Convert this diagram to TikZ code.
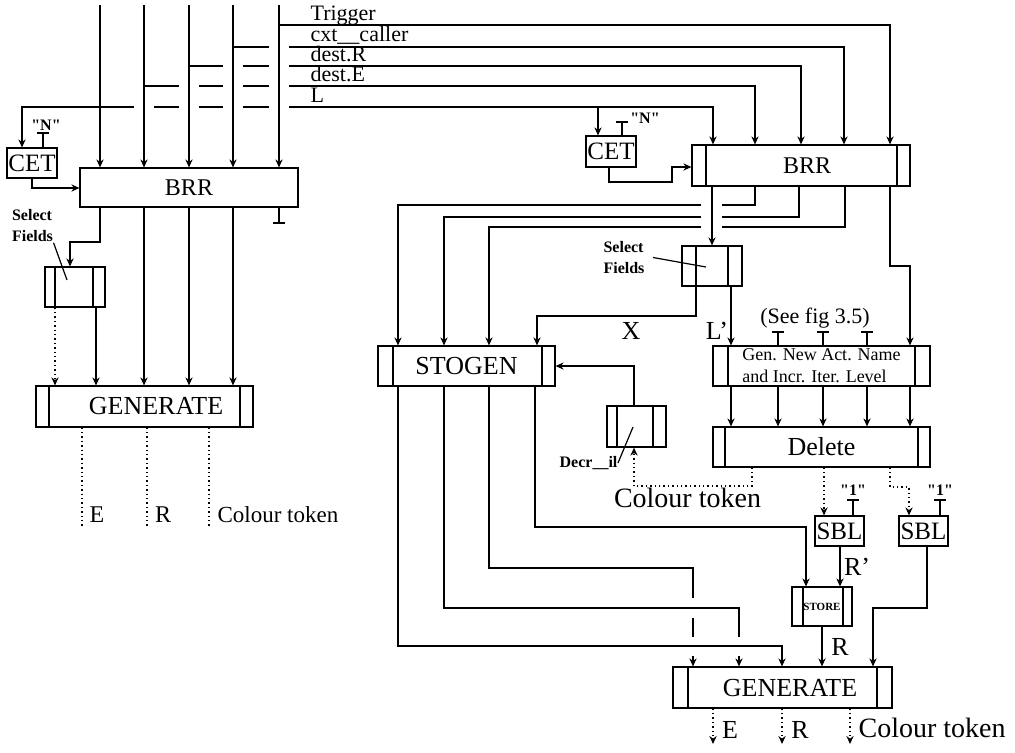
\documentclass[tikz,border=0pt]{standalone}
\usepackage{fontspec}
\setmainfont{Liberation Serif}
\usetikzlibrary{arrows.meta}

\begin{document}
\begin{tikzpicture}[
  x=0.5pt, y=-0.5pt,
  line width=0.6pt,
  every node/.style={inner sep=0pt},
  fs/.style={font=\fontsize{#1}{#1}\selectfont},
  fsb/.style={font=\fontsize{#1}{10.5}\selectfont\bfseries},
  plain/.style={draw, minimum width=#1},
  proc/.style 2 args={draw, path picture={
      \draw ([xshift=#1]path picture bounding box.north west) -- ([xshift=#1]path picture bounding box.south west);
      \draw ([xshift=-#2]path picture bounding box.north east) -- ([xshift=-#2]path picture bounding box.south east);}},
  arr/.style={-{Stealth[length=4pt, width=3.6pt]}},
  tbar/.style={-{Bar[width=6pt]}},
  dot/.style={dash pattern=on 0.7pt off 1.5pt, line width=0.8pt},
  hop/.style={fill=white, draw=none},
  buslbl/.style={fs=11, anchor=base west}
]
  \useasboundingbox (0,0) rectangle (1015,752);

  % left half
  \coordinate (inL) at (100,5);
  \coordinate (inE) at (144,5);
  \coordinate (inR) at (189,5);
  \coordinate (inC) at (233,5);
  \coordinate (inT) at (279,5);
  \node[plain=25pt, minimum height=15pt, fs=12.5] (cetA) at (32,163) {CET};
  \node[plain=109pt, minimum height=19.5pt, fs=12] (brrA) at (189,187.5) {BRR};
  \node[proc={5pt}{6pt}, minimum width=30pt, minimum height=20pt] (selA) at (75,287) {};
  \node[proc={6.5pt}{6.5pt}, minimum width=108.5pt, minimum height=20.5pt,
        label={[fs=13, xshift=5.75pt]center:GENERATE}] (genA) at (144.5,406.5) {};

  % right half
  \node[plain=25pt, minimum height=15.5pt, fs=12.5] (cetB) at (611,151.5) {CET};
  \node[proc={7pt}{6.5pt}, minimum width=109pt, minimum height=20.5pt,
        label={[fs=12, xshift=3pt]center:BRR}] (brrB) at (801,165.5) {};
  \node[proc={7pt}{7pt}, minimum width=30pt, minimum height=20pt] (selB) at (712,266) {};
  \node[proc={7.5pt}{6.5pt}, minimum width=88.5pt, minimum height=20pt, fs=13] (stogen) at (466.5,366) {STOGEN};
  \node[proc={5pt}{6.5pt}, minimum width=29.5pt, minimum height=20.5pt] (decr) at (636.5,426.5) {};
  \node[proc={7.5pt}{7.5pt}, minimum width=108.5pt, minimum height=20pt,
        font=\fontsize{9}{11}\selectfont, align=left] (gennew) at (821.5,366) {Gen. New Act. Name\\and Incr. Iter. Level};
  \node[proc={6pt}{6pt}, minimum width=108.5pt, minimum height=20pt, fs=13] (delete) at (821.5,447) {Delete};
  \node[plain=24.5pt, minimum height=15pt, fs=12.5] (sblA) at (839.5,531) {SBL};
  \node[plain=24.5pt, minimum height=15pt, fs=12.5] (sblB) at (923.5,531) {SBL};
  \node[proc={5.5pt}{4.5pt}, minimum width=30pt, minimum height=19.5pt, fsb=5.5] (store) at (822,606.5) {STORE};
  \node[proc={7.5pt}{7.5pt}, minimum width=109.5pt, minimum height=20.5pt,
        label={[fs=13, xshift=3.75pt]center:GENERATE}] (genB) at (782.5,687.5) {};

  % texts
  \node[buslbl] (lblT) at (310,20) {Trigger};
  \node[buslbl] (lblC) at (310,41) {cxt\_\_caller};
  \node[buslbl] (lblR) at (310,61) {dest.R};
  \node[buslbl] (lblE) at (310,81) {dest.E};
  \node[buslbl] (lblL) at (310,102) {L};
  \node[fsb=8] (nA) at (46,125) {\textquotedbl N\textquotedbl};
  \node[fsb=8] (nB) at (645,118) {\textquotedbl N\textquotedbl};
  \node[fsb=8, align=left] (selAlbl) at (32.5,226) {Select\\Fields};
  \node[fsb=8, align=left] (selBlbl) at (624,257.5) {Select\\Fields};
  \node[fsb=8] (decrlbl) at (588.5,463) {Decr\_\_il};
  \node[fs=13] (lblX) at (631,331) {X};
  \node[fs=13] (lblLp) at (717,331) {L'};
  \node[fs=11] (seefig) at (815,318) {(See fig 3.5)};
  \node[fs=14] (ctokM) at (687.5,498) {Colour token};
  \node[fsb=8] (oneA) at (853,490) {\textquotedbl 1\textquotedbl};
  \node[fsb=8] (oneB) at (940,490) {\textquotedbl 1\textquotedbl};
  \node[fs=13] (lblRp) at (857,567) {R'};
  \node[fs=13] (lblRs) at (840,647) {R};
  \node[fs=12] (outEA) at (97,515) {E};
  \node[fs=12] (outRA) at (163,515) {R};
  \node[fs=11.5, anchor=west] (outCA) at (217,515) {Colour token};
  \node[fs=13] (outEB) at (730,730) {E};
  \node[fs=13] (outRB) at (800,730) {R};
  \node[fs=14, anchor=west] (outCB) at (858,728) {Colour token};

  % buses to the right BRR
  \coordinate (jL) at (598,107);
  \draw[arr] (inT |- 0,25) -| (brrB.north -| 890,0);
  \draw[arr] (inC |- 0,47) -| (brrB.north -| 844,0);
  \draw[arr] (inR |- 0,66) -| (brrB.north -| 801,0);
  \draw[arr] (inE |- 0,86) -| (brrB.north -| 755,0);
  \draw[arr] (inL |- 0,107) -| (brrB.north -| 713,0);
  \draw[arr] (inL |- 0,107) -| (cetA.north -| 22,0);
  \draw[arr] (jL) -- (cetB.north -| jL);
  \foreach \px/\py in {279/47, 233/66, 279/66, 189/86, 233/86, 279/86, 144/107, 189/107, 233/107, 279/107}
    \fill[hop] (\px-10,\py-3) rectangle (\px+10,\py+3);
  \foreach \n in {inL, inE, inR, inC, inT}
    \draw[arr] (\n) -- (brrA.north -| \n);

  % left half
  \draw[tbar] (cetA.north -| 43,0) -- ++(0,-15);
  \draw[arr] (cetA.south -| 32,0) |- (brrA.west |- 0,188);
  \draw[arr] (brrA.south -| inL) |- (70,242) -- (selA.north -| 70,0);
  \foreach \n in {inE, inR, inC}
    \draw[arr] (brrA.south -| \n) -- (genA.north -| \n);
  \draw[tbar] (brrA.south -| inT) -- ++(0,16);
  \draw[arr, dot] (selA.south -| 55,0) -- (genA.north -| 55,0);
  \draw[arr] (selA.south -| 96,0) -- (genA.north -| 96,0);
  \coordinate (selAptr) at (67,280);
  \draw (selAlbl.south east) -- (selAptr);
  \foreach \x in {82, 147, 209}
    \draw[dot] (genA.south -| \x,0) -- (\x,528);

  % right half
  \draw[tbar] (cetB.north -| 622,0) -- ++(0,-14);
  \draw[arr] (cetB.south -| 609,0) |- (672,182) |- (brrB.west |- 0,167);
  \draw[arr] (brrB.south -| 755,0) |- (398,205) -- (stogen.north -| 398,0);
  \draw[arr] (brrB.south -| 799,0) |- (444,217) -- (stogen.north -| 444,0);
  \draw[arr] (brrB.south -| 845,0) |- (489,227) -- (stogen.north -| 489,0);
  \fill[hop] (701,200) rectangle (722,231);
  \draw[arr] (brrB.south -| 712,0) -- (selB.north -| 712,0);
  \draw[arr] (brrB.south -| 890,0) |- (910,266) -- (gennew.north -| 910,0);
  \coordinate (selBptr) at (706,267);
  \draw ([xshift=4pt]selBlbl.east) -- (selBptr);
  \draw[arr] (selB.south -| 696,0) |- (537,316) -- (stogen.north -| 537,0);
  \draw[arr] (selB.south -| 731,0) -- (gennew.north -| 731,0);
  \foreach \x in {778, 823, 867}
    \draw[tbar] (gennew.north -| \x,0) -- ++(0,-14);
  \foreach \x in {731, 778, 823, 867, 910}
    \draw[arr] (gennew.south -| \x,0) -- (delete.north -| \x,0);

  \draw[arr, dot] (delete.south -| 752,0) |- (634,486) -- (decr.south -| 634,0);
  \draw[arr, dot] (delete.south -| 824,0) -- (sblA.north -| 824,0);
  \draw[arr, dot] (delete.south -| 890,0) |- (909,487) -- (sblB.north -| 909,0);
  \draw[arr] (decr.north -| 634,0) |- (stogen.east);
  \coordinate (decrptr) at (633,427);
  \draw (decrlbl.east) -- (decrptr);

  \draw[tbar] (sblA.north -| 853,0) -- ++(0,-16);
  \draw[tbar] (sblB.north -| 940,0) -- ++(0,-16);
  \draw[arr] (sblA.south -| 840,0) -- (store.north -| 840,0);
  \draw[arr] (sblB.south -| 927,0) |- (873,608) -- (genB.north -| 873,0);
  \draw[arr] (store.south -| 822,0) -- (genB.north -| 822,0);

  % STOGEN outputs
  \draw[arr] (stogen.south -| 535,0) |- (806,527) -- (store.north -| 806,0);
  \draw[arr] (stogen.south -| 489,0) |- (693,568) -- (genB.north -| 693,0);
  \fill[hop] (689,598) rectangle (697,618);
  \fill[hop] (689,637) rectangle (697,656);
  \draw[arr] (stogen.south -| 444,0) |- (739,608) -- (genB.north -| 739,0);
  \fill[hop] (735,637) rectangle (743,656);
  \draw[arr] (stogen.south -| 398,0) |- (782,646) -- (genB.north -| 782,0);

  \foreach \x in {713, 782, 850}
    \draw[arr, dot] (genB.south -| \x,0) -- (\x,744);
\end{tikzpicture}
\end{document}
